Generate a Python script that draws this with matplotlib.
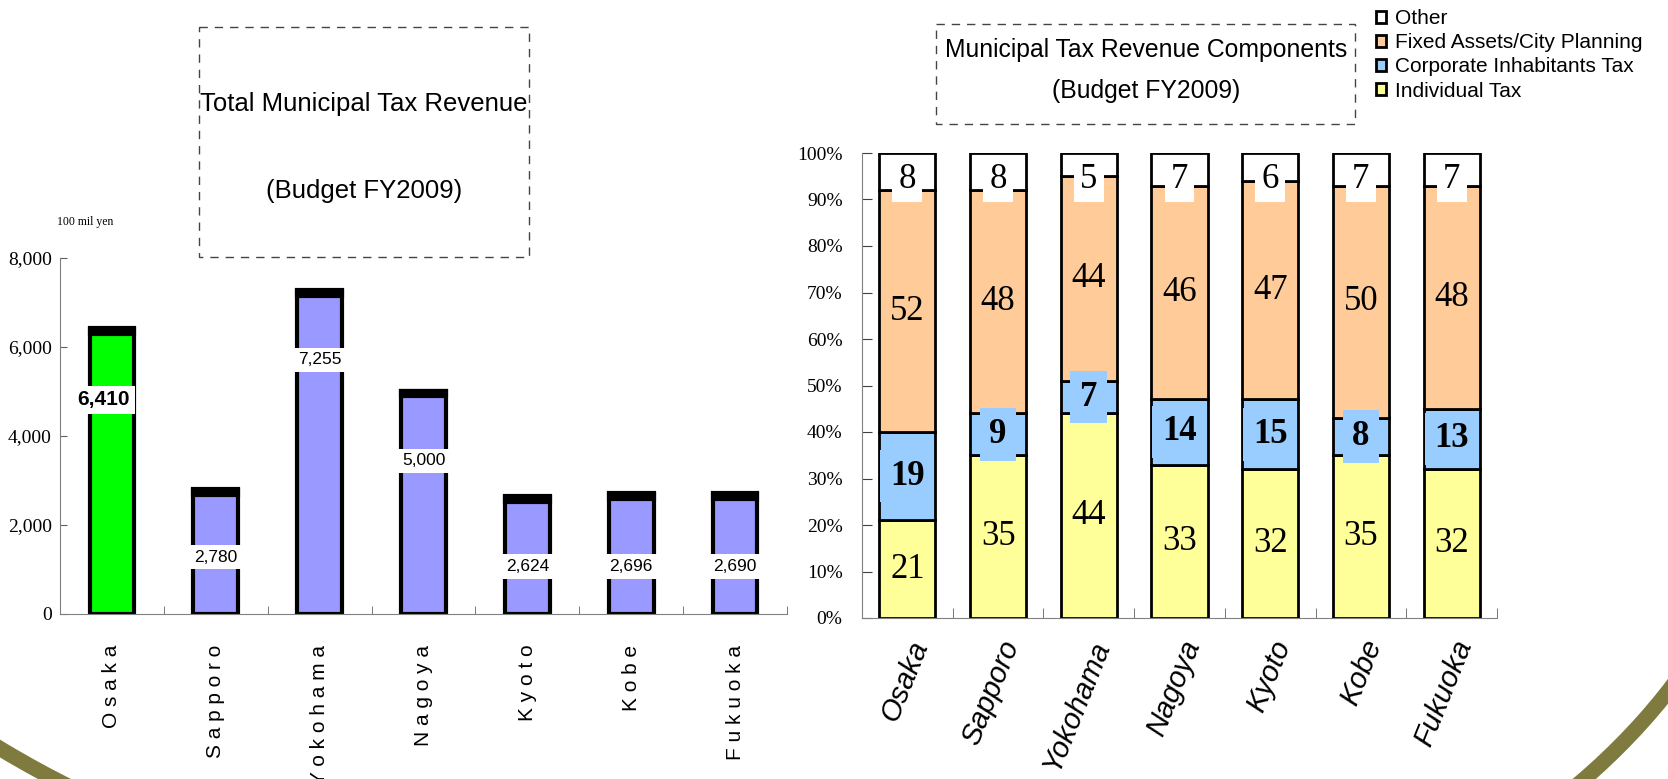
import numpy as np
import matplotlib.pyplot as plt
from matplotlib.patches import Rectangle, Ellipse, Patch

# ------------------------------------------------------------
# Data (FY2009 budget)
# ------------------------------------------------------------
cities = ["Osaka", "Sapporo", "Yokohama", "Nagoya", "Kyoto", "Kobe", "Fukuoka"]

# total municipal tax revenue, 100 mil yen
total_revenue = [6410, 2780, 7255, 5000, 2624, 2696, 2690]
# height at which each value box sits
label_height = [4810, 1280, 5710, 3440, 1070, 1070, 1070]

# components, % of total
individual = [21, 35, 44, 33, 32, 35, 32]
corporate = [19, 9, 7, 14, 15, 8, 13]
fixed_assets = [52, 48, 44, 46, 47, 50, 48]
other = [8, 8, 5, 7, 6, 7, 7]

component_names = ["Individual Tax", "Corporate Inhabitants Tax",
                   "Fixed Assets/City Planning", "Other"]
component_colors = ["#FFFF99", "#99CCFF", "#FFCC99", "#FFFFFF"]

# ------------------------------------------------------------
# Figure / fonts
# ------------------------------------------------------------
W, H = 1668, 779
SANS = ["Liberation Sans", "DejaVu Sans"]
SERIF = ["Liberation Serif", "DejaVu Serif"]

fig = plt.figure(figsize=(W / 100, H / 100), dpi=100)

# background layer in pixel coords (slide border, title boxes)
bg = fig.add_axes([0, 0, 1, 1], zorder=0)
bg.set_xlim(0, W)
bg.set_ylim(H, 0)
bg.axis("off")

olive = "#7F7B3E"
left_arc = Ellipse((710, 326), 2000, 1200, fill=False, ec=olive, lw=11)
right_arc = Ellipse((870, 414), 1800, 1200, fill=False, ec=olive, lw=11)
bg.add_patch(left_arc)
bg.add_patch(right_arc)
left_arc.set_clip_path(Rectangle((0, 600), 300, 200, transform=bg.transData))
right_arc.set_clip_path(Rectangle((1400, 600), 300, 200,
                                  transform=bg.transData))

# dashed title boxes
bg.add_patch(Rectangle((199, 27), 330, 230, fill=False, ec="#444444",
                       lw=1, ls=(0, (6, 5))))
bg.add_patch(Rectangle((936, 24), 419, 100, fill=False, ec="#444444",
                       lw=1, ls=(0, (6, 5))))

bg.text(364, 104, "Total Municipal Tax Revenue", ha="center", va="center",
        fontsize=18.5, family=SANS)
bg.text(364, 191, "(Budget FY2009)", ha="center", va="center",
        fontsize=18.5, family=SANS)
bg.text(1146, 50, "Municipal Tax Revenue Components", ha="center",
        va="center", fontsize=17.8, family=SANS)
bg.text(1146, 91, "(Budget FY2009)", ha="center", va="center",
        fontsize=17.8, family=SANS)
bg.text(57, 222, "100 mil yen", ha="left", va="center", fontsize=8.5,
        family=SERIF)

x = np.arange(len(cities))

# ------------------------------------------------------------
# Left: total revenue bars
# ------------------------------------------------------------
ax1 = fig.add_axes([60 / W, (H - 614) / H, 727 / W, 356 / H], zorder=2)
ax1.patch.set_alpha(0)
bar_colors = ["#00FF00"] + ["#9999FF"] * (len(cities) - 1)
ax1.bar(x, total_revenue, width=0.43, color=bar_colors, edgecolor="black",
        linewidth=3, zorder=2)
# thick dark cap on each bar
ax1.bar(x, 130, bottom=np.array(total_revenue) - 110, width=0.43,
        color="black", edgecolor="black", linewidth=3, zorder=3)

for i, (v, h) in enumerate(zip(total_revenue, label_height)):
    if i == 0:
        ax1.text(i - 0.08, h, f"{v:,}", ha="center", va="center",
                 fontsize=15, fontweight="bold", family=SANS, zorder=5,
                 bbox=dict(fc="white", ec="none", pad=3.5))
    else:
        ax1.text(i, h, f"{v:,}", ha="center", va="center", fontsize=12.5,
                 family=SANS, zorder=5,
                 bbox=dict(fc="white", ec="none", pad=3.5))

ax1.set_xlim(-0.5, len(cities) - 0.5)
ax1.set_ylim(0, 8000)
ax1.set_yticks([0, 2000, 4000, 6000, 8000])
ax1.set_yticklabels([f"{t:,}" for t in [0, 2000, 4000, 6000, 8000]],
                    family=SERIF, fontsize=14)
ax1.set_xticks(x)
ax1.set_xticklabels([" ".join(c) for c in cities], rotation=90, va="top",
                    ha="center", family=SANS, fontsize=15)
ax1.set_xticks(np.arange(-0.5, len(cities), 1), minor=True)
ax1.tick_params(axis="x", which="major", length=0, pad=22)
ax1.tick_params(axis="x", which="minor", direction="in", length=6,
                color="#606060")
ax1.tick_params(axis="y", direction="in", length=5, color="#606060", pad=6)
for s in ["top", "right"]:
    ax1.spines[s].set_visible(False)
for s in ["left", "bottom"]:
    ax1.spines[s].set_color("#808080")

# ------------------------------------------------------------
# Right: component shares
# ------------------------------------------------------------
ax2 = fig.add_axes([862 / W, (H - 618) / H, 635 / W, 465 / H], zorder=2)
ax2.patch.set_alpha(0)
series = [individual, corporate, fixed_assets, other]
bottom = np.zeros(len(cities))
for vals, col in zip(series, component_colors):
    ax2.bar(x, vals, bottom=bottom, width=0.62, color=col,
            edgecolor="black", linewidth=2, zorder=2)
    bottom += np.array(vals)

for i in x:
    b0 = individual[i]
    b1 = b0 + corporate[i]
    b2 = b1 + fixed_assets[i]
    ax2.text(i, b0 / 2, str(individual[i]), ha="center", va="center",
             fontsize=25, family=SERIF, zorder=5)
    ax2.text(i, (b0 + b1) / 2, str(corporate[i]), ha="center", va="center",
             fontsize=25, fontweight="bold", family=SERIF, zorder=5,
             bbox=dict(fc="#99CCFF", ec="none", pad=7))
    ax2.text(i, (b1 + b2) / 2, str(fixed_assets[i]), ha="center",
             va="center", fontsize=25, family=SERIF, zorder=5)
    ax2.text(i, 94.3, str(other[i]), ha="center", va="center",
             fontsize=25, family=SERIF, zorder=5,
             bbox=dict(fc="white", ec="none", pad=4.5))

ax2.set_xlim(-0.5, len(cities) - 0.5)
ax2.set_ylim(0, 100)
ax2.set_yticks(np.arange(0, 101, 10))
ax2.set_yticklabels([f"{t}%" for t in range(0, 101, 10)], family=SERIF,
                    fontsize=14)
ax2.set_xticks(x)
ax2.set_xticklabels(cities, rotation=68, ha="right", va="top",
                    rotation_mode="anchor", family=SANS, style="italic",
                    fontsize=21)
ax2.set_xticks(np.arange(-0.5, len(cities), 1), minor=True)
ax2.tick_params(axis="x", which="major", length=0, pad=13)
ax2.tick_params(axis="x", which="minor", direction="in", length=7,
                color="#606060")
ax2.tick_params(axis="y", direction="in", length=7, color="#404040", pad=14)
for s in ["top", "right"]:
    ax2.spines[s].set_visible(False)
for s in ["left", "bottom"]:
    ax2.spines[s].set_color("#808080")

handles = [Patch(fc=c, ec="black", lw=2, label=n)
           for n, c in zip(component_names, component_colors)][::-1]
fig.legend(handles=handles, loc="upper left",
           bbox_to_anchor=(1376 / W, 1 - 9 / H), frameon=False,
           prop={"family": SANS, "size": 15}, handlelength=0.5,
           handleheight=0.5, handletextpad=0.4, labelspacing=0.25,
           borderpad=0, borderaxespad=0)

fig.savefig("out.png", dpi=100)
